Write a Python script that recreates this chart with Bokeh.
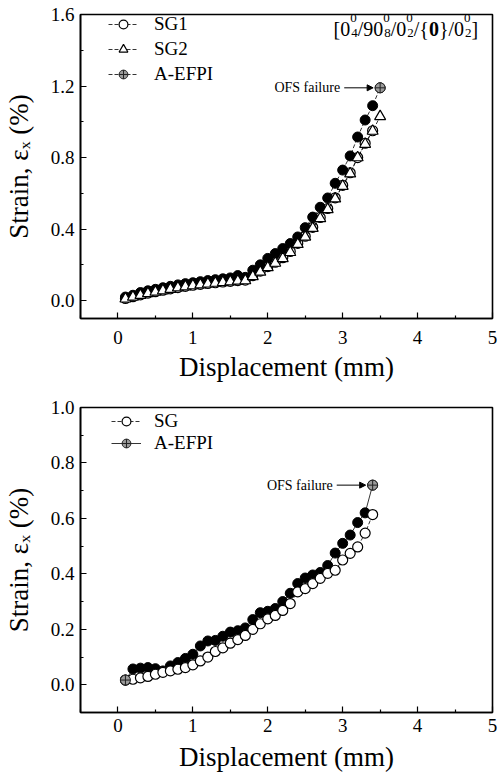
from bokeh.plotting import figure
from bokeh.layouts import column
from bokeh.models import (Range1d, FixedTicker, PrintfTickFormatter, Legend, LegendItem,
                          Label, Arrow, NormalHead, ColumnDataSource)
from bokeh.embed import file_html
from bokeh.resources import INLINE

FONT = "Liberation Serif"

# ---------------- data: top panel ----------------
top_x = [0.1, 0.2, 0.3, 0.4, 0.5, 0.6, 0.7, 0.8, 0.9, 1.0,
         1.1, 1.2, 1.3, 1.4, 1.5, 1.6, 1.7, 1.8, 1.9, 2.0,
         2.1, 2.2, 2.3, 2.4, 2.5, 2.6, 2.7, 2.8, 2.9, 3.0,
         3.1, 3.2, 3.3, 3.4, 3.5]
top_efpi = [0.02, 0.03, 0.045, 0.055, 0.063, 0.072, 0.08, 0.088, 0.095, 0.10,
            0.106, 0.112, 0.117, 0.122, 0.127, 0.14, 0.13, 0.17, 0.20, 0.236,
            0.263, 0.291, 0.319, 0.356, 0.408, 0.467, 0.522, 0.574, 0.656, 0.73,
            0.809, 0.915, 1.01, 1.09, 1.19]
top_sg2 = [0.01, 0.02, 0.03, 0.04, 0.048, 0.056, 0.064, 0.072, 0.078, 0.084,
           0.089, 0.094, 0.098, 0.102, 0.106, 0.11, 0.112, 0.135, 0.16, 0.185,
           0.21, 0.236, 0.27, 0.315, 0.356, 0.405, 0.46, 0.51, 0.57, 0.64,
           0.71, 0.80, 0.875, 0.948, 1.03]
top_sg1_x = top_x[:34]
top_sg1 = [0.012, 0.022, 0.032, 0.042, 0.05, 0.058, 0.066, 0.073, 0.08, 0.086,
           0.091, 0.096, 0.10, 0.104, 0.108, 0.112, 0.115, 0.14, 0.165, 0.19,
           0.215, 0.24, 0.275, 0.32, 0.36, 0.41, 0.465, 0.515, 0.575, 0.645,
           0.715, 0.80, 0.88, 0.95]

# ---------------- data: bottom panel ----------------
bot_x = [0.1, 0.2, 0.3, 0.4, 0.5, 0.6, 0.7, 0.8, 0.9, 1.0,
         1.1, 1.2, 1.3, 1.4, 1.5, 1.6, 1.7, 1.8, 1.9, 2.0,
         2.1, 2.2, 2.3, 2.4, 2.5, 2.6, 2.7, 2.8, 2.9, 3.0,
         3.1, 3.2, 3.3, 3.4]
bot_efpi = [0.017, 0.057, 0.06, 0.062, 0.058, 0.05, 0.068, 0.08, 0.095, 0.11,
            0.14, 0.158, 0.16, 0.175, 0.19, 0.195, 0.205, 0.235, 0.26, 0.265,
            0.275, 0.30, 0.33, 0.365, 0.385, 0.396, 0.405, 0.43, 0.475, 0.51,
            0.54, 0.585, 0.62, 0.72]
bot_sg = [0.017, 0.02, 0.025, 0.03, 0.038, 0.045, 0.05, 0.056, 0.062, 0.072,
          0.086, 0.10, 0.12, 0.133, 0.15, 0.163, 0.178, 0.20, 0.22, 0.238,
          0.25, 0.268, 0.293, 0.335, 0.347, 0.365, 0.384, 0.402, 0.413, 0.45,
          0.474, 0.497, 0.547, 0.614]

x_ticks = [0, 1, 2, 3, 4, 5]
x_minor = [-0.5, 0.5, 1.5, 2.5, 3.5, 4.5]
top_y_ticks = [0.0, 0.4, 0.8, 1.2, 1.6]
top_y_minor = [0.2, 0.6, 1.0, 1.4]
bot_y_ticks = [0.0, 0.2, 0.4, 0.6, 0.8, 1.0]
bot_y_minor = [0.1, 0.3, 0.5, 0.7, 0.9]

WIDTH = 502
BL, BR = 79, 10
FRAME_W = WIDTH - BL - BR
PPU = FRAME_W / 5.5  # pixels per mm


def base_fig(height, yr, yticks, yminor, btop, bbottom, xstand, xlabstand):
    p = figure(width=WIDTH, height=height, x_range=Range1d(-0.5, 5), y_range=Range1d(*yr),
               output_backend="svg", toolbar_location=None,
               min_border_left=BL, min_border_right=BR,
               min_border_top=btop, min_border_bottom=bbottom)
    p.grid.visible = False
    p.outline_line_color = "black"
    p.outline_line_width = 1.6
    p.xaxis.ticker = FixedTicker(ticks=x_ticks, minor_ticks=x_minor)
    p.yaxis.ticker = FixedTicker(ticks=yticks, minor_ticks=yminor)
    p.yaxis.formatter = PrintfTickFormatter(format="%.1f")
    for ax in (p.xaxis[0], p.yaxis[0]):
        ax.axis_line_width = 1.6
        ax.axis_line_color = "black"
        ax.major_tick_in = 6
        ax.major_tick_out = 0
        ax.minor_tick_in = 3
        ax.minor_tick_out = 0
        ax.major_tick_line_width = 1.2
        ax.minor_tick_line_width = 1.2
        ax.major_label_text_font = FONT
        ax.major_label_text_font_size = "19px"
        ax.major_label_text_color = "black"
        ax.axis_label_text_font = FONT
        ax.axis_label_text_font_size = "27px"
        ax.axis_label_text_font_style = "normal"
        ax.axis_label_text_color = "black"
    p.xaxis.major_label_standoff = xstand
    p.yaxis.major_label_standoff = 6
    p.yaxis.axis_label = "Strain, \u03b5\u2093 (%)"
    p.yaxis.axis_label_standoff = 14
    p.xaxis.axis_label = "Displacement (mm)"
    p.xaxis.axis_label_standoff = xlabstand
    return p


def ofs(p, xl, yl):
    p.add_layout(Arrow(end=NormalHead(size=6, fill_color="black", line_color="black", line_width=1),
                       x_start=xl - 36 / PPU, y_start=yl, x_end=xl - 7 / PPU, y_end=yl,
                       line_width=1, line_color="black"))
    p.add_layout(Label(x=xl, y=yl, x_offset=-40, text="OFS failure", text_align="right",
                       text_baseline="middle", text_font=FONT, text_font_size="14px",
                       text_color="black"))


def legend(items, loc, spacing, standoff):
    return Legend(items=items, location=loc, orientation="vertical",
                  label_text_font=FONT, label_text_font_size="19px", label_text_color="black",
                  glyph_width=30, glyph_height=22, label_height=22, spacing=spacing,
                  padding=0, margin=0, label_standoff=standoff,
                  border_line_color=None, background_fill_alpha=0)


# ---------------- top figure ----------------
p1 = base_fig(384, (-0.1, 1.6), top_y_ticks, top_y_minor, 14, 66, 12, 5)

s_1 = ColumnDataSource(dict(x=top_sg1_x, y=top_sg1))
l_1 = p1.line("x", "y", source=s_1, line_color="black", line_width=0.8, line_dash="4 2")
m_1 = p1.scatter("x", "y", source=s_1, marker="circle", size=10, fill_color="white",
                 line_color="black", line_width=1.2)

s_e = ColumnDataSource(dict(x=top_x, y=top_efpi))
l_e = p1.line("x", "y", source=s_e, line_color="black", line_width=0.8, line_dash="4 2")
p1.scatter("x", "y", source=s_e, marker="circle", size=10, fill_color="black", line_color="black")

s_2 = ColumnDataSource(dict(x=top_x, y=top_sg2))
l_2 = p1.line("x", "y", source=s_2, line_color="black", line_width=0.8, line_dash="4 2")
m_2 = p1.scatter("x", "y", source=s_2, marker="triangle", size=11, fill_color="white",
                 line_color="black", line_width=1.2)

s_last = ColumnDataSource(dict(x=[top_x[-1]], y=[top_efpi[-1]]))
m_last = p1.scatter("x", "y", source=s_last, marker="circle_cross", size=10, fill_color="#9a9a9a",
                    line_color="#222222", line_width=1)

p1.add_layout(legend([LegendItem(label="SG1", renderers=[l_1, m_1]),
                      LegendItem(label="SG2", renderers=[l_2, m_2]),
                      LegendItem(label="A-EFPI", renderers=[l_e, m_last])],
                     (28, 233), 3, 16))

ofs(p1, top_x[-1], top_efpi[-1])

# laminate code  [0^0_4/90^0_8/0^0_2/{0}/0^0_2]
TW = {"[": 333, "]": 333, "/": 278, "{": 480, "}": 480, "0": 500, "9": 500}
seq = [("[0", None), (("0", "4"), None), ("/90", None), (("0", "8"), None), ("/0", None),
       (("0", "2"), None), ("/{", None), ("0", "bold"), ("}/0", None), (("0", "2"), None), ("]", None)]
cx = -159.0
for item, style in seq:
    if isinstance(item, tuple):
        sup, sub = item
        p1.add_layout(Label(x=p1.x_range.end, y=p1.y_range.end, x_offset=cx, y_offset=-3, text=sup,
                            text_font=FONT, text_font_size="13px", text_baseline="alphabetic",
                            text_color="black"))
        p1.add_layout(Label(x=p1.x_range.end, y=p1.y_range.end, x_offset=cx + 1, y_offset=-18, text=sub,
                            text_font=FONT, text_font_size="13px", text_baseline="alphabetic",
                            text_color="black"))
        cx += 0.5 * 13 + 1
    else:
        p1.add_layout(Label(x=p1.x_range.end, y=p1.y_range.end, x_offset=cx, y_offset=-14, text=item,
                            text_font=FONT, text_font_size="20px",
                            text_font_style=style or "normal", text_baseline="alphabetic",
                            text_color="black"))
        cx += sum(TW[c] for c in item) / 1000 * 20

# ---------------- bottom figure ----------------
p2 = base_fig(390, (-0.1, 1.0), bot_y_ticks, bot_y_minor, 23, 61, 6, 7)

b_e = ColumnDataSource(dict(x=bot_x, y=bot_efpi))
bl_e = p2.line("x", "y", source=b_e, line_color="black", line_width=0.8)
p2.scatter("x", "y", source=b_e, marker="circle", size=10, fill_color="black", line_color="black")

b_s = ColumnDataSource(dict(x=bot_x, y=bot_sg))
bl_s = p2.line("x", "y", source=b_s, line_color="black", line_width=0.8, line_dash="4 2")
bm_s = p2.scatter("x", "y", source=b_s, marker="circle", size=10, fill_color="white",
                  line_color="black", line_width=1.2)

b_last = ColumnDataSource(dict(x=[bot_x[-1]], y=[bot_efpi[-1]]))
bm_last = p2.scatter("x", "y", source=b_last, marker="circle_cross", size=10, fill_color="#9a9a9a",
                     line_color="#222222", line_width=1)
b_first = ColumnDataSource(dict(x=[bot_x[0]], y=[bot_efpi[0]]))
p2.scatter("x", "y", source=b_first, marker="circle_cross", size=10, fill_color="#9a9a9a",
           line_color="#222222", line_width=1)

p2.add_layout(legend([LegendItem(label="SG", renderers=[bl_s, bm_s]),
                      LegendItem(label="A-EFPI", renderers=[bl_e, bm_last])],
                     (31, 258), 0, 13))

ofs(p2, bot_x[-1], bot_efpi[-1])

layout = column(p1, p2, spacing=0)
open("out.html", "w").write(file_html(layout, INLINE))
